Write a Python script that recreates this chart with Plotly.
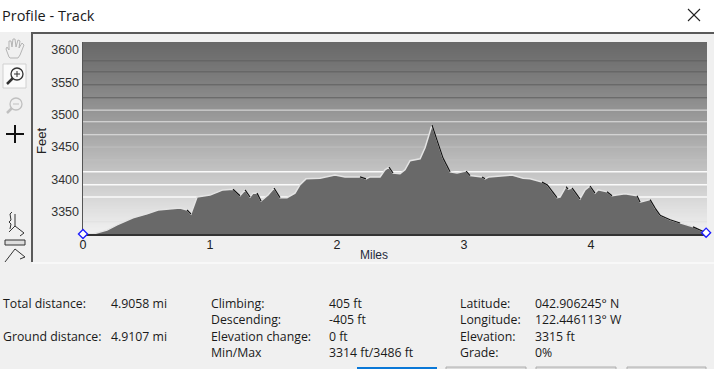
import numpy as np
import plotly.graph_objects as go

W, H = 714, 369
L, R, T, B = 83, 707, 42, 234

miles = [0, .079, .189, .268, .394, .504, .591, .740, .764, .819, .850, .898, 1.0, 1.102, 1.181,
         1.236, 1.276, 1.315, 1.339, 1.370, 1.402, 1.457, 1.504, 1.551, 1.606, 1.669, 1.709, 1.756, 1.866,
         1.984, 2.063, 2.181, 2.228, 2.260, 2.339, 2.378, 2.409, 2.441, 2.496, 2.535, 2.575, 2.654, 2.693,
         2.748, 2.787, 2.835, 2.890, 2.945, 3.016, 3.047, 3.142, 3.165, 3.197, 3.339, 3.378, 3.465,
         3.520, 3.614, 3.654, 3.732, 3.756, 3.803, 3.819, 3.850, 3.913, 3.953, 3.992, 4.031, 4.055,
         4.126, 4.165, 4.268, 4.362, 4.386, 4.465, 4.504, 4.543, 4.622, 4.701, 4.803, 4.906]
feet = [3316, 3316, 3322, 3330, 3341, 3347, 3353, 3355, 3356, 3353, 3347, 3373, 3376, 3384, 3385,
        3375, 3384, 3373, 3379, 3379, 3367, 3376, 3387, 3372, 3372, 3379, 3392, 3401, 3402,
        3407, 3404, 3404, 3401, 3404, 3404, 3415, 3419, 3410, 3409, 3415, 3429, 3432, 3449,
        3484, 3461, 3433, 3412, 3410, 3413, 3406, 3404, 3401, 3404, 3406, 3407, 3402,
        3401, 3396, 3392, 3372, 3373, 3389, 3385, 3387, 3370, 3384, 3390, 3379, 3384,
        3381, 3375, 3378, 3375, 3365, 3369, 3356, 3345, 3338, 3333, 3327, 3318]

y_ticks = [3350, 3400, 3450, 3500, 3550, 3600]
x_ticks = [0, 1, 2, 3, 4]
dark_grid = [3583, 3566, 3546, 3526]
faint_grid = [3450, 3430]
light_grid = [3507, 3489, 3469, 3353, 3335]
white_grid = [3412, 3392, 3373]

stats = [
    ("Total distance:", 2, 303), ("4.9058 mi", 110, 303),
    ("Ground distance:", 2, 336), ("4.9107 mi", 110, 336),
    ("Climbing:", 210, 303), ("405 ft", 328, 303),
    ("Descending:", 210, 319), ("-405 ft", 328, 319),
    ("Elevation change:", 210, 336), ("0 ft", 328, 336),
    ("Min/Max", 210, 352), ("3314 ft/3486 ft", 328, 352),
    ("Latitude:", 459, 303), ("042.906245° N", 534, 303),
    ("Longitude:", 459, 319), ("122.446113° W", 534, 319),
    ("Elevation:", 459, 336), ("3315 ft", 534, 336),
    ("Grade:", 459, 352), ("0%", 534, 352),
]

XR = [0, 4.913]
YR = [3316, 3612]
UI = "Open Sans"

def px(x):
    return (x - L) / (R - L)

def py(y):
    return (B - y) / (B - T)

def hline_trace(vals, color, width=1):
    xs, ys = [], []
    for v in vals:
        xs += [XR[0], XR[1], None]
        ys += [v, v, None]
    return go.Scatter(x=xs, y=ys, mode="lines", line=dict(color=color, width=width),
                      hoverinfo="skip", showlegend=False)

fig = go.Figure()

levels = np.linspace(YR[0], YR[1], 40)
fig.add_trace(go.Heatmap(
    x=XR, y=levels, z=[[v, v] for v in levels], zsmooth="best", showscale=False, hoverinfo="skip",
    colorscale=[[0, "#f2f2f2"], [0.2, "#d6d6d6"], [0.5, "#aaaaaa"], [0.8, "#7e7e7e"], [1, "#686868"]],
))
fig.add_trace(hline_trace(dark_grid, "#606060"))
fig.add_trace(hline_trace(faint_grid, "#c0c0c0"))
fig.add_trace(hline_trace(light_grid, "#e2e2e2"))
fig.add_trace(hline_trace(white_grid, "#fafafa", 1.5))

fig.add_trace(go.Scatter(x=miles, y=feet, mode="lines", fill="tozeroy", fillcolor="#696969",
                         line=dict(color="#e4e4e4", width=1.5), hoverinfo="skip", showlegend=False))

# steep descents are inked black on the profile edge
dx, dy = [], []
for i in range(len(miles) - 1):
    if feet[i + 1] < feet[i] and (feet[i] - feet[i + 1]) / (miles[i + 1] - miles[i] + 1e-6) > 60:
        dx += [miles[i], miles[i + 1], None]
        dy += [feet[i], feet[i + 1], None]
fig.add_trace(go.Scatter(x=dx, y=dy, mode="lines", line=dict(color="#111111", width=1.2),
                         hoverinfo="skip", showlegend=False))

fig.add_trace(go.Scatter(x=[miles[0], miles[-1]], y=[feet[0], feet[-1]], mode="markers", cliponaxis=False,
                         marker=dict(symbol="diamond", size=7, color="white", line=dict(color="#1a1aff", width=1.3)),
                         hoverinfo="skip", showlegend=False))

def line(x0, y0, x1, y1, color="#222222", width=1.0):
    return dict(type="line", xref="paper", yref="paper", x0=px(x0), y0=py(y0), x1=px(x1), y1=py(y1),
                line=dict(color=color, width=width), layer="below")

def rect(x0, y0, x1, y1, fill, color=None, width=1):
    return dict(type="rect", xref="paper", yref="paper", x0=px(x0), y0=py(y0), x1=px(x1), y1=py(y1),
                fillcolor=fill, line=dict(color=color or fill, width=width if color else 0), layer="below")

def circle(cx, cy, r, fill, color, width=1.3):
    return dict(type="circle", xref="paper", yref="paper", x0=px(cx - r), y0=py(cy - r), x1=px(cx + r), y1=py(cy + r),
                fillcolor=fill, line=dict(color=color, width=width), layer="below")

def poly(points, color, width=1.0, close=False):
    d = "M" + " L".join(f"{px(a):.5f},{py(b):.5f}" for a, b in points) + (" Z" if close else "")
    return dict(type="path", xref="paper", yref="paper", path=d, line=dict(color=color, width=width), layer="below")

shapes = [
    rect(0, 0, W, 32, "#ffffff"),
    line(31, 33, W, 33, "#5a5a5a", 2),
    line(32, 33, 32, 262, "#5a5a5a", 2),
    line(32, 263, W, 263, "#fbfbfb", 1.5),
    # close box
    line(688, 9, 700, 21, "#222222", 1.1), line(700, 9, 688, 21, "#222222", 1.1),
    # plot axes
    line(83, 42, 83, 235, "#222222", 1.5), line(83, 235, 707, 235, "#333333", 2),
    # hand tool
    poly([(9, 57), (6, 49), (7, 47), (9, 50), (9, 41), (11, 41), (12, 47), (13, 39), (15, 39), (16, 47),
          (18, 40), (20, 41), (19, 48), (22, 43), (24, 45), (20, 55), (18, 58), (10, 58)], "#b4b4b4", 1, True),
    # zoom in (selected)
    rect(3, 64, 26, 88, "#fafafa", "#d0d0d0"),
    line(7, 84, 13, 78, "#333333", 2.5),
    circle(17, 74, 6, "#fafafa", "#333333"),
    line(14, 74, 20, 74, "#333333", 1), line(17, 71, 17, 77, "#333333", 1),
    # zoom out
    line(7, 113, 12, 108, "#c0c0c0", 2.5),
    circle(16, 104, 6, "#f0f0f0", "#c0c0c0"),
    line(13, 104, 19, 104, "#c0c0c0", 1),
    # crosshair
    line(6, 134, 24, 134, "#111111", 2), line(15, 125, 15, 143, "#111111", 2),
    # scale icons
    poly([(12, 212), (10, 214), (11, 220), (9, 222), (11, 224), (10, 229)], "#333333"),
    poly([(9, 232), (15, 226), (24, 233), (20, 236)], "#333333"),
    poly([(15, 214), (15, 226)], "#333333"),
    rect(5, 240, 25, 245, "#dddddd", "#333333"),
    poly([(5, 262), (15, 249), (25, 257), (20, 259)], "#333333"),
    # buttons along the bottom edge
    rect(357, 367, 437, 370, "#0a78d7"),
    rect(446, 367, 526, 370, "#dcdcdc", "#b0b0b0"),
    rect(536, 367, 616, 370, "#dcdcdc", "#b0b0b0"),
    rect(627, 367, 706, 370, "#dcdcdc", "#b0b0b0"),
]

def text(s, x, y, size=12.3, anchor="left", color="#1a1a1a", angle=0, font=UI):
    return dict(text=s, xref="paper", yref="paper", x=px(x), y=py(y), xanchor=anchor, yanchor="middle",
                showarrow=False, textangle=angle, borderpad=0, font=dict(family=font, size=size, color=color))

annotations = [text(s, x, y) for s, x, y in stats]
annotations += [
    text("Profile - Track", 1, 15, 14.5),
    text("Feet", 41, 141, 13, "center", "#222222", -90, "Liberation Sans"),
    text("Miles", 374, 255, 12, "center", "#1f2a3a", 0, "Liberation Sans"),
]

fig.update_layout(
    width=W, height=H, autosize=False,
    margin=dict(l=L, r=W - R, t=T, b=H - B, pad=0),
    paper_bgcolor="#f0f0f0", plot_bgcolor="#f0f0f0",
    showlegend=False, shapes=shapes, annotations=annotations,
    xaxis=dict(range=XR, tickvals=x_ticks, showgrid=False, zeroline=False, ticks="", showline=False,
               fixedrange=True, ticklabelstandoff=1,
               tickfont=dict(family="Liberation Sans", size=12.5, color="#222222")),
    yaxis=dict(range=YR, tickvals=y_ticks, showgrid=False, zeroline=False, ticks="", showline=False,
               fixedrange=True, ticklabelstandoff=3,
               tickfont=dict(family="Liberation Sans", size=12.5, color="#333333")),
)

fig.write_html("out.html", config={"displayModeBar": False},
               post_script="document.body.style.margin='0';document.documentElement.style.overflow='hidden';")
